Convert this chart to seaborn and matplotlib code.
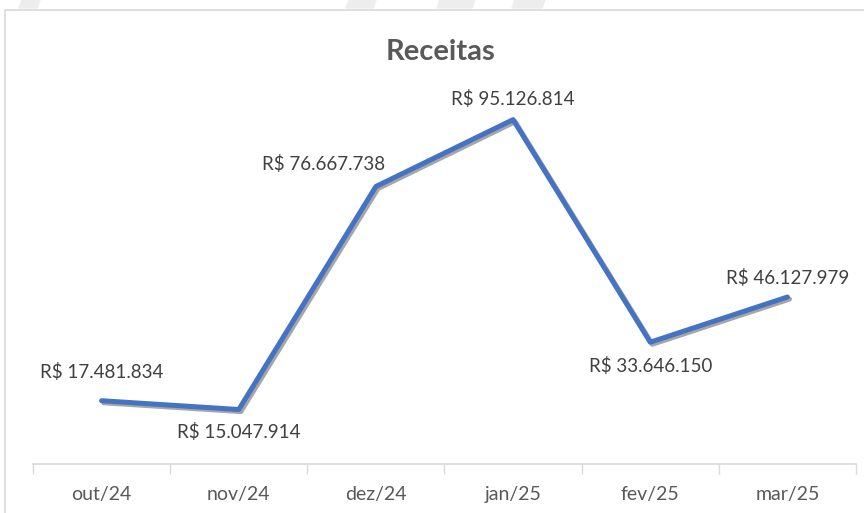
import pandas as pd
import seaborn as sns
import matplotlib.pyplot as plt
import matplotlib.patheffects as pe
from matplotlib.lines import Line2D
from matplotlib.patches import Polygon

meses = ["out/24", "nov/24", "dez/24", "jan/25", "fev/25", "mar/25"]
receitas = [17481834, 15047914, 76667738, 95126814, 33646150, 46127979]
rotulos = ["R$ 17.481.834", "R$ 15.047.914", "R$ 76.667.738",
           "R$ 95.126.814", "R$ 33.646.150", "R$ 46.127.979"]

df = pd.DataFrame({"mes": meses, "receita": receitas})

sns.set_style("white")
plt.rcParams["font.family"] = ["Lato", "DejaVu Sans"]

fig = plt.figure(figsize=(8.64, 5.13), dpi=100)
ax = fig.add_axes([33 / 864, 49 / 513, 823 / 864, 362 / 513])

# chart frame + faint marks above it
top = 1 - 9.5 / 513
fig.add_artist(Line2D([4.5 / 864, 4.5 / 864], [0, top], transform=fig.transFigure,
                      color="#D9D9D9", linewidth=1.2))
fig.add_artist(Line2D([4.5 / 864, 1], [top, top], transform=fig.transFigure,
                      color="#D9D9D9", linewidth=1.2))
for xs in [(22, 40), (349, 376), (440, 475), (515, 545)]:
    fig.patches.append(Polygon([(xs[0] / 864, 1), (xs[1] / 864, 1),
                                ((xs[1] - 3) / 864, 505 / 513), ((xs[0] - 3) / 864, 505 / 513)],
                               transform=fig.transFigure, color="#EDEDED", zorder=-1))

sns.lineplot(data=df, x="mes", y="receita", sort=False, ax=ax,
             color="#4472C4", linewidth=3.6, solid_capstyle="round",
             solid_joinstyle="round",
             path_effects=[pe.SimpleLineShadow(offset=(1.5, -1.5), alpha=0.35),
                           pe.Normal()])

offsets = [(0, 29), (0, -22), (-52, 22), (0, 21), (0, -24), (0, 19)]
for i, (v, lab) in enumerate(zip(receitas, rotulos)):
    ax.annotate(lab, (i, v), xytext=offsets[i], textcoords="offset pixels",
                ha="center", va="center", fontsize=13.5, color="#404040")

ax.set_ylim(0, 100000000)
ax.set_xlim(-0.5, 5.5)
ax.set_xlabel("")
ax.set_ylabel("")
ax.set_yticks([])
ax.set_xticks(range(len(meses)))
ax.set_xticklabels(meses)
ax.set_xticks([i - 0.5 for i in range(len(meses) + 1)], minor=True)
ax.tick_params(axis="x", which="major", length=0, pad=16, labelsize=14,
               labelcolor="#595959")
ax.tick_params(axis="x", which="minor", length=7, width=1, color="#D9D9D9",
               direction="out", bottom=True)
for s in ["top", "right", "left"]:
    ax.spines[s].set_visible(False)
ax.spines["bottom"].set_color("#D9D9D9")
ax.spines["bottom"].set_linewidth(1.2)
ax.patch.set_alpha(0)

fig.text(440 / 864, 1 - 52 / 513, "Receitas", ha="center", va="center",
         fontsize=21, fontweight="bold", color="#595959")

fig.savefig("out.png", dpi=100)
